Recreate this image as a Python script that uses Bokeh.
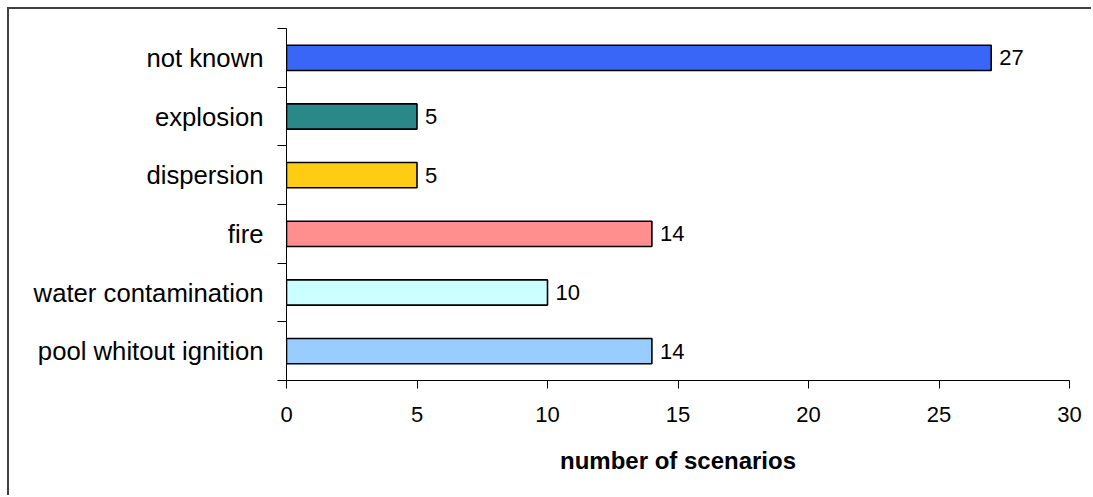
from bokeh.plotting import figure
from bokeh.models import Range1d, FixedTicker, ColumnDataSource
from bokeh.core.properties import value
from bokeh.embed import file_html
from bokeh.resources import INLINE

# data (bottom to top)
categories = ["pool whitout ignition", "water contamination", "fire",
              "dispersion", "explosion", "not known"]
scenarios = [14, 10, 14, 5, 5, 27]
bar_colors = ["#99CCFF", "#CCFFFF", "#FF8F8F", "#FFCC14", "#2A8888", "#3A66F8"]
x_ticks = [0, 5, 10, 15, 20, 25, 30]

FONT = "Liberation Sans"

positions = [i + 0.5 for i in range(len(categories))]
boundaries = list(range(len(categories) + 1))

src = ColumnDataSource(dict(
    y=positions, v=scenarios, c=bar_colors,
    lbl=[str(s) for s in scenarios],
))

p = figure(width=1084, height=488, output_backend="svg", toolbar_location=None,
           x_range=Range1d(0, 30), y_range=Range1d(0, len(categories)),
           min_border_left=277, min_border_right=24, min_border_top=19,
           min_border_bottom=117)
p.styles = {"border-left": "2px solid #404040", "border-top": "2px solid #404040",
            "margin-left": "7px", "margin-top": "7px"}
p.outline_line_color = None
p.xgrid.visible = False
p.ygrid.visible = False
p.background_fill_color = "white"
p.border_fill_color = "white"

p.hbar(y="y", right="v", left=0, height=0.43, fill_color="c",
       line_color="black", line_width=1.6, source=src)

p.text(x="v", y="y", text="lbl", x_offset=8, text_align="left",
       text_baseline="middle", text_font=value(FONT),
       text_font_size=value("22px"), text_color="black", source=src)

# x axis
xa = p.xaxis[0]
xa.ticker = FixedTicker(ticks=x_ticks)
xa.major_tick_out = 8
xa.major_tick_in = 0
xa.minor_tick_out = 0
xa.minor_tick_in = 0
xa.axis_line_color = "black"
xa.major_tick_line_color = "black"
xa.major_label_text_font = FONT
xa.major_label_text_font_size = "22px"
xa.major_label_text_color = "black"
xa.major_label_standoff = 18
xa.axis_label = "number of scenarios"
xa.axis_label_text_font = FONT
xa.axis_label_text_font_size = "24px"
xa.axis_label_text_font_style = "bold"
xa.axis_label_text_color = "black"
xa.axis_label_standoff = 22

# y axis
ya = p.yaxis[0]
ya.ticker = FixedTicker(ticks=positions, minor_ticks=boundaries)
ya.major_label_overrides = {pos: name for pos, name in zip(positions, categories)}
ya.major_tick_out = 0
ya.major_tick_in = 0
ya.minor_tick_out = 9
ya.minor_tick_in = 0
ya.minor_tick_line_color = "black"
ya.axis_line_color = "black"
ya.major_label_text_font = FONT
ya.major_label_text_font_size = "25.7px"
ya.major_label_text_color = "black"
ya.major_label_standoff = 14

open("out.html", "w").write(file_html(p, INLINE))
